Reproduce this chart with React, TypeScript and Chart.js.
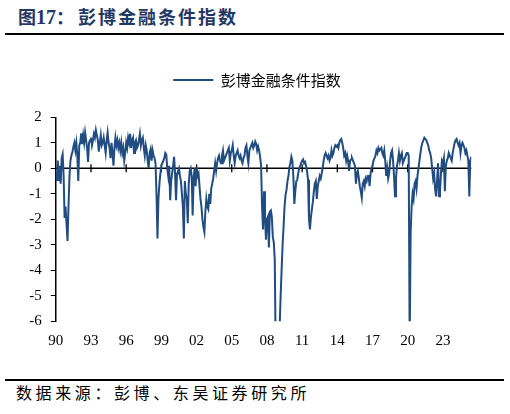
import { useEffect, useRef } from "react";
import { Chart, registerables } from "chart.js";

Chart.register(...registerables);

// Monthly readings of the Bloomberg financial conditions index, Jan 1990 onwards
const fci1990s = [
  // 1990
  -0.2, -0.5, 0.3, -0.5, 0.1, -0.6, 0.4, 0.55, -0.3, -1.95, -1.5, -2.2,
  // 1991
  -2.85, -1.5, -0.3, 0.3, 0.5, 0.65, 0.85, 1.0, 0.7, 1.0, 0.5, -0.5,
  // 1992
  0.9, 1.0, 1.37, 0.95, 1.3, 1.0, 1.4, 1.1, 0.8, 0.25, 1.0, 1.1,
  // 1993
  1.2, 0.9, 1.1, 1.35, 1.2, 1.5, 1.3, 1.1, 0.65, 1.0, 1.3, 0.9,
  // 1994
  1.0, 1.2, 0.9, 0.6, 1.1, 1.4, 1.0, 0.8, 0.4, 1.0, 0.6, 0.1,
  // 1995
  0.8, 1.2, 0.9, 1.1, 0.8, 1.0, 0.7, 1.0, 0.6, 0.8, 0.3, 0.6,
  // 1996
  1.0, 0.8, 1.2, 1.0, 1.35, 0.8, 1.1, 1.2, 0.6, 1.0, 1.1, 0.8,
  // 1997
  0.9, 1.1, 1.35, 0.9, 1.1, 1.2, 0.8, 0.5, 0.9, 0.7, 0.3, 0.0,
  // 1998
  0.6, 0.75, 0.3, 0.7, 0.5, 0.4, 0.2, -1.0, -2.75, -1.2, -0.6, -0.2,
  // 1999
  0.1, 0.2, 0.3, 0.4, 0.6, 0.55, 0.0, -0.3, 0.1, -1.25, -0.5, -0.2,
];

const fci2000s = [
  // 2000
  0.1, 0.45, -0.2, -1.25, -0.2, -0.1, 0.0, -0.3, -0.5, -1.0, -1.5, -2.75,
  // 2001
  -0.5, -1.0, -1.2, -2.15, -0.6, -0.1, 0.0, -0.3, -1.85, -0.4, 0.0, -0.7,
  // 2002
  0.05, -0.3, -0.2, -0.7, -1.2, -1.5, -2.0, -2.3, -2.5, -1.7, -1.2, -1.5,
  // 2003
  -1.6, -1.0, -1.4, -0.8, -0.6, -0.4, -0.1, 0.2, -0.1, 0.2, 0.4, 0.5,
  // 2004
  0.3, 0.2, 0.5, 0.7, 0.3, 0.4, 0.5, 0.6, 0.7, 0.8, 0.3, 0.6,
  // 2005
  0.7, 0.9, 0.5, 0.2, 0.5, 0.6, 0.7, 0.5, 0.4, 0.5, 0.3, 0.2,
  // 2006
  0.4, 0.5, 0.8, 0.9, 0.5, 0.2, 0.7, 0.8, 0.9, 1.0, 0.8, 0.9,
  // 2007
  1.05, 0.95, 0.7, 0.85, 0.7, 0.45, 0.1, -1.5, -2.4, -0.9, -1.9, -2.8,
  // 2008
  -2.0, -1.9, -3.1, -1.7, -1.65, -1.9, -2.7, -2.9, -3.6, -7.5, -9.5, -8.5,
  // 2009
  -7.5, -6.2, -5.0, -4.0, -3.0, -2.3, -1.5, -1.05, -0.85, -0.5, -0.3, 0.05,
];

const fci2010s = [
  // 2010
  0.2, 0.45, 0.3, -0.3, -1.4, -0.9, -0.5, -0.45, -0.2, 0.0, 0.1, 0.2,
  // 2011
  0.3, 0.35, 0.2, 0.25, 0.1, -0.1, -0.45, -2.0, -2.4, -1.9, -1.6, -1.3,
  // 2012
  -0.9, -0.6, -0.5, -1.2, -0.7, -0.5, -0.3, -0.4, -0.2, 0.0, 0.3, 0.5,
  // 2013
  0.6, 0.5, 0.4, 0.5, 0.3, 0.4, 0.7, 0.5, 0.6, 0.8, 0.9, 0.85,
  // 2014
  0.9, 0.8, 1.0, 1.1, 1.15, 1.0, 0.8, 0.5, 0.6, 0.3, 0.5, 0.3,
  // 2015
  -0.1, 0.3, 0.35, 0.4, 0.3, 0.2, 0.1, -0.6, -0.2, -0.1, -0.4, -0.7,
  // 2016
  -0.9, -1.15, -0.6, -0.5, -0.7, -0.4, -0.5, -0.3, -0.3, -0.7, -0.2, 0.0,
  // 2017
  0.1, 0.3, 0.4, 0.5, 0.7, 0.6, 0.8, 0.7, 0.75, 0.8, 0.6, 0.5,
  // 2018
  0.7, 0.3, -0.3, 0.0, -0.4, -0.2, 0.3, 0.6, 0.7, 0.3, -0.3, -1.1,
  // 2019
  -0.4, 0.1, 0.3, 0.6, 0.3, 0.5, 0.6, 0.2, 0.3, 0.4, 0.5, 0.6,
];

const fci2020s = [
  // 2020
  0.6, 0.5, -7.0, -2.5, -1.5, -1.0, -1.2, -0.6, -0.5, -0.8, -0.3, 0.0,
  // 2021
  0.3, 0.6, 0.85, 1.0, 1.1, 1.2, 1.15, 1.1, 1.0, 0.9, 0.7, 0.6,
  // 2022
  0.4, 0.0, -0.4, -0.2, -0.8, -1.1, -0.5, 0.2, -1.1, -0.9, -0.2, 0.3,
  // 2023
  0.2, 0.4, -0.9, 0.1, 0.3, 0.4, 0.6, 0.5, 0.4, 0.3, 0.6, 0.8,
  // 2024
  1.0, 1.1, 1.15, 1.0, 0.9, 1.0, 0.6, 0.9, 1.0, 0.9, 0.8, 0.6,
  // 2025 (Jan-Jun)
  0.7, 0.5, 0.3, -1.1, 0.3, 0.45,
];

const startYear = 1990;
const endYear = 2025.42;
const yearTicks = [1990, 1993, 1996, 1999, 2002, 2005, 2008, 2011, 2014, 2017, 2020, 2023];
const yMin = -6;
const yMax = 2;
const seriesLabel = "彭博金融条件指数";

const lineColor = "#214C82";
const legendCenterX = 257;

const zeroAxisPlugin = {
  id: "zeroAxis",
  afterLayout(chart: any) {
    const lg = chart.legend;
    if (lg) lg.left = 2 * legendCenterX - lg.right;
  },
  beforeDatasetsDraw(chart: any) {
    const { ctx, chartArea, scales } = chart;
    const y0 = scales.y.getPixelForValue(0);
    ctx.save();
    ctx.strokeStyle = "#000";
    ctx.lineWidth = 1.5;
    ctx.beginPath();
    ctx.moveTo(chartArea.left, y0);
    ctx.lineTo(chartArea.right, y0);
    ctx.stroke();
    ctx.lineWidth = 1.3;
    for (const t of scales.x.ticks) {
      if (t.value === startYear) continue;
      const px = scales.x.getPixelForValue(t.value);
      ctx.beginPath();
      ctx.moveTo(px, y0 - 4);
      ctx.lineTo(px, y0 + 4);
      ctx.stroke();
    }
    ctx.restore();
  },
};

export default function App() {
  const canvasRef = useRef<HTMLCanvasElement | null>(null);

  useEffect(() => {
    if (!canvasRef.current) return;
    const values = [...fci1990s, ...fci2000s, ...fci2010s, ...fci2020s];
    const points = values.map((v, i) => ({ x: startYear + i / 12, y: v }));
    const tickFont = { family: "'Liberation Serif', 'Times New Roman', serif", size: 15 };

    const chart = new Chart(canvasRef.current, {
      type: "line",
      data: {
        datasets: [
          {
            label: seriesLabel,
            data: points,
            borderColor: lineColor,
            backgroundColor: lineColor,
            borderWidth: 2,
            pointRadius: 0,
            tension: 0,
            clip: 0,
          } as any,
        ],
      },
      options: {
        animation: false,
        responsive: false,
        events: [],
        layout: { padding: { left: 0, right: 38.7, top: 18.5, bottom: 0 } },
        plugins: {
          legend: {
            display: true,
            position: "top",
            labels: {
              boxWidth: 40,
              boxHeight: 0,
              padding: 10,
              color: "#000",
              font: { family: "'Noto Sans CJK SC'", size: 15 },
            },
          },
          tooltip: { enabled: false },
        },
        scales: {
          x: {
            type: "linear",
            min: startYear,
            max: endYear,
            afterBuildTicks: (s: any) => {
              s.ticks = yearTicks.map((v) => ({ value: v }));
            },
            afterFit: (s: any) => {
              s.height = 42.7;
            },
            grid: { display: false, drawTicks: false },
            border: { display: false },
            ticks: {
              padding: 11,
              color: "#000",
              font: tickFont,
              autoSkip: false,
              maxRotation: 0,
              callback: (v: any) => String(Number(v) % 100).padStart(2, "0"),
            },
          },
          spacer: {
            type: "linear",
            axis: "x",
            position: "top",
            display: true,
            grid: { display: false, drawTicks: false },
            border: { display: false },
            ticks: { display: false },
            afterFit: (s: any) => {
              s.height = 19.8;
            },
          } as any,
          y: {
            type: "linear",
            min: yMin,
            max: yMax,
            afterFit: (s: any) => {
              s.width = 55.8;
            },
            grid: {
              display: true,
              drawOnChartArea: false,
              drawTicks: true,
              tickLength: 5,
              color: "#000",
              lineWidth: 1,
            },
            border: { display: true, color: "#000", width: 1.5 },
            ticks: {
              stepSize: 1,
              padding: 9,
              color: "#000",
              font: tickFont,
            },
          },
        },
      },
      plugins: [zeroAxisPlugin],
    });
    return () => chart.destroy();
  }, []);

  return (
    <div
      style={{
        position: "fixed",
        left: 0,
        top: 0,
        width: 510,
        height: 414,
        background: "#fff",
        overflow: "hidden",
      }}
    >
      <div
        style={{
          position: "absolute",
          left: 18,
          top: 5,
          fontFamily: "'Noto Sans CJK SC'",
          fontWeight: 700,
          fontSize: 18,
          lineHeight: "22px",
          color: "#1F3864",
          whiteSpace: "nowrap",
        }}
      >
        图
        <span style={{ fontFamily: "'Liberation Serif'", fontSize: 20 }}>17</span>：
        <span style={{ marginLeft: 4, letterSpacing: 2 }}>彭博金融条件指数</span>
      </div>
      <div style={{ position: "absolute", left: 5, top: 33, width: 499, height: 2, background: "#000" }} />
      <canvas
        ref={canvasRef}
        width={510}
        height={320}
        style={{ position: "absolute", left: 0, top: 44, width: 510, height: 320 }}
      />
      <div style={{ position: "absolute", left: 5, top: 379, width: 499, height: 2, background: "#000" }} />
      <div
        style={{
          position: "absolute",
          left: 16,
          top: 382,
          fontFamily: "'Noto Sans CJK SC'",
          fontSize: 16,
          lineHeight: "20px",
          letterSpacing: 3.6,
          color: "#000",
          whiteSpace: "nowrap",
        }}
      >
        数据来源：彭博、东吴证券研究所
      </div>
    </div>
  );
}
